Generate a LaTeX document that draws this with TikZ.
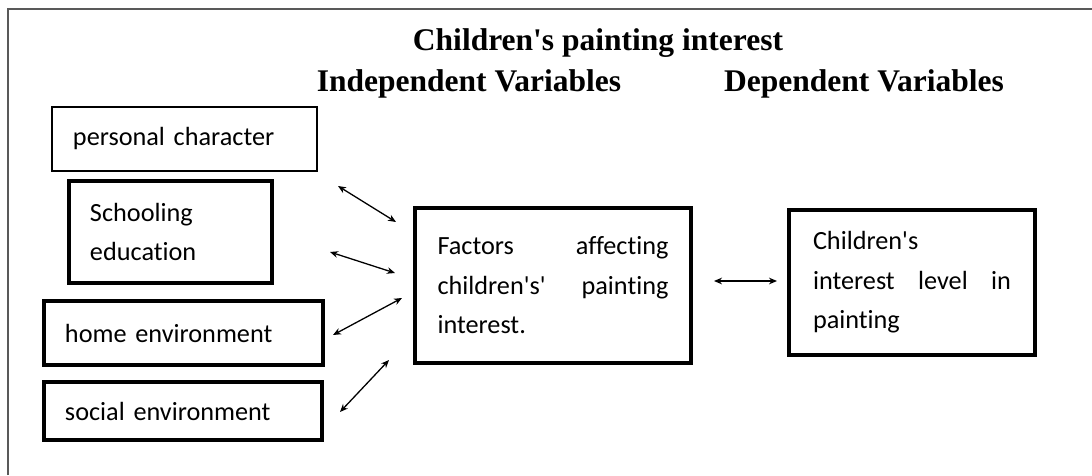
\documentclass[tikz,border=0pt]{standalone}
\usepackage{fontspec}
\setmainfont{Liberation Serif}
\newfontfamily\boxfont{Carlito}[Ligatures=CommonOff]
\usetikzlibrary{positioning,arrows.meta}

\begin{document}
\begin{tikzpicture}[
    x=0.03cm, y=-0.03cm,
    hd/.style={font=\fontsize{26.9}{30}\selectfont\bfseries, inner sep=0pt, anchor=base},
    var/.style={draw, line width=3.4pt, inner xsep=0.63cm, inner ysep=0pt, align=left,
                font=\boxfont\fontsize{22.4}{33.7}\selectfont},
    thinvar/.style={var, line width=2.1pt},
    op/.style={<->, >={Stealth[length=2.4mm, width=2mm]}, line width=1.1pt},
    frame/.style={draw=black!65, line width=1.7pt},
  ]
  \useasboundingbox (0,0) rectangle (1092,475);
  \draw[frame] (8,475) -- (8,9) -- (1092,9);

  % headings
  \node[hd] (ttl) at (598,50) {Children\textquotesingle s painting interest};
  \node[hd] (iv) at (469,91) {Independent Variables};
  \node[hd] (dv) at (864,91) {Dependent Variables};

  % independent variables
  \node[thinvar, minimum width=7.95cm, minimum height=1.92cm, text width=6.69cm]
    (pc) at (184.5,139) {personal character};
  \node[var, minimum width=6.09cm, minimum height=3.06cm, text width=4.83cm]
    (se) at (170.5,232) {Schooling\\education};
  \node[var, minimum width=8.37cm, minimum height=1.92cm, text width=7.11cm]
    (he) at (183.5,333) {home environment};
  \node[var, minimum width=8.34cm, minimum height=1.74cm, text width=7.08cm]
    (soc) at (183,411) {social environment};

  % factors and dependent variable
  \node[var, minimum width=8.28cm, minimum height=4.65cm, text width=6.93cm]
    (fac) at (553,285.5) {Factors\hfill affecting\\children's'\hfill painting\\interest.};
  \node[var, minimum width=7.38cm, minimum height=4.35cm, text width=5.94cm]
    (lvl) at (912,282.5) {Children's\\interest\hfill level\hfill in\\painting};

  % arrow ends
  \coordinate (a1s) at (338,186);  \coordinate (a1e) at (396,222);
  \coordinate (a2s) at (330,252);  \coordinate (a2e) at (395,273);
  \coordinate (a3s) at (333,335);  \coordinate (a3e) at (402,298);
  \coordinate (a4s) at (340,412);  \coordinate (a4e) at (389,360);
  \coordinate (a5s) at (714,281);  \coordinate (a5e) at (777,281);

  \draw[op] (a1s) -- (a1e);
  \draw[op] (a2s) -- (a2e);
  \draw[op] (a3s) -- (a3e);
  \draw[op] (a4s) -- (a4e);
  \draw[op] (a5s) -- (a5e);
\end{tikzpicture}
\end{document}
